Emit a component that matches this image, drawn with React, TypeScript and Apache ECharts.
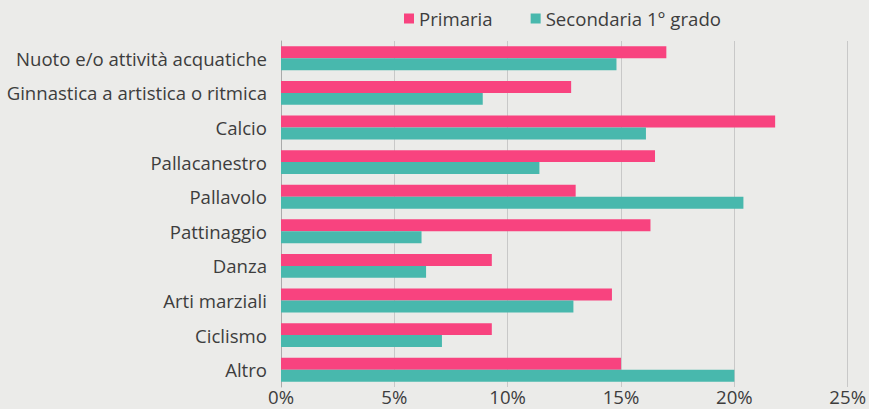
import React, { useEffect, useRef } from "react";
import * as echarts from "echarts";

const categories = [
  "Nuoto e/o attività acquatiche",
  "Ginnastica a artistica o ritmica",
  "Calcio",
  "Pallacanestro",
  "Pallavolo",
  "Pattinaggio",
  "Danza",
  "Arti marziali",
  "Ciclismo",
  "Altro",
];
const primaria = [17.0, 12.8, 21.8, 16.5, 13.0, 16.3, 9.3, 14.6, 9.3, 15.0];
const secondaria = [14.8, 8.9, 16.1, 11.4, 20.4, 6.2, 6.4, 12.9, 7.1, 20.0];
const seriesNames = ["Primaria", "Secondaria 1° grado"];
const xTicks = { min: 0, max: 25, interval: 5 };

export default function App() {
  const ref = useRef<HTMLDivElement>(null);
  useEffect(() => {
    if (!ref.current) return;
    const chart = echarts.init(ref.current, null, { renderer: "svg" });
    const font = "'Open Sans', sans-serif";
    const txt = "#3d3d3d";
    chart.setOption({
      animation: false,
      backgroundColor: "#ebebe9",
      textStyle: { fontFamily: font },
      legend: {
        top: 4,
        left: 399,
        itemWidth: 10,
        itemHeight: 10,
        itemGap: 38,
        icon: "rect",
        textStyle: { fontSize: 18.6, color: txt, fontFamily: font },
        data: seriesNames,
      },
      grid: { left: 281, right: 21, top: 41, bottom: 22, containLabel: false },
      xAxis: {
        type: "value",
        min: xTicks.min,
        max: xTicks.max,
        interval: xTicks.interval,
        axisLabel: {
          formatter: "{value}%",
          fontSize: 18.6,
          color: txt,
          margin: 0,
          fontFamily: font,
        },
        splitLine: { show: true, lineStyle: { color: "#c8c8c8", width: 1 } },
        axisLine: { show: false },
        axisTick: { show: false },
      },
      yAxis: {
        type: "category",
        inverse: true,
        data: categories,
        axisLabel: { fontSize: 18.6, color: txt, margin: 14, fontFamily: font },
        axisLine: { show: true, lineStyle: { color: "#aaa", width: 1 } },
        axisTick: { show: false },
      },
      series: [
        {
          name: seriesNames[0],
          type: "bar",
          data: primaria,
          barGap: "0%",
          barCategoryGap: "31%",
          itemStyle: { color: "#f8437f" },
        },
        {
          name: seriesNames[1],
          type: "bar",
          data: secondaria,
          barGap: "0%",
          barCategoryGap: "31%",
          itemStyle: { color: "#48b8ad" },
        },
      ],
    });
    return () => chart.dispose();
  }, []);
  return (
    <div
      ref={ref}
      style={{ position: "fixed", left: 0, top: 0, width: 869, height: 409 }}
    />
  );
}
